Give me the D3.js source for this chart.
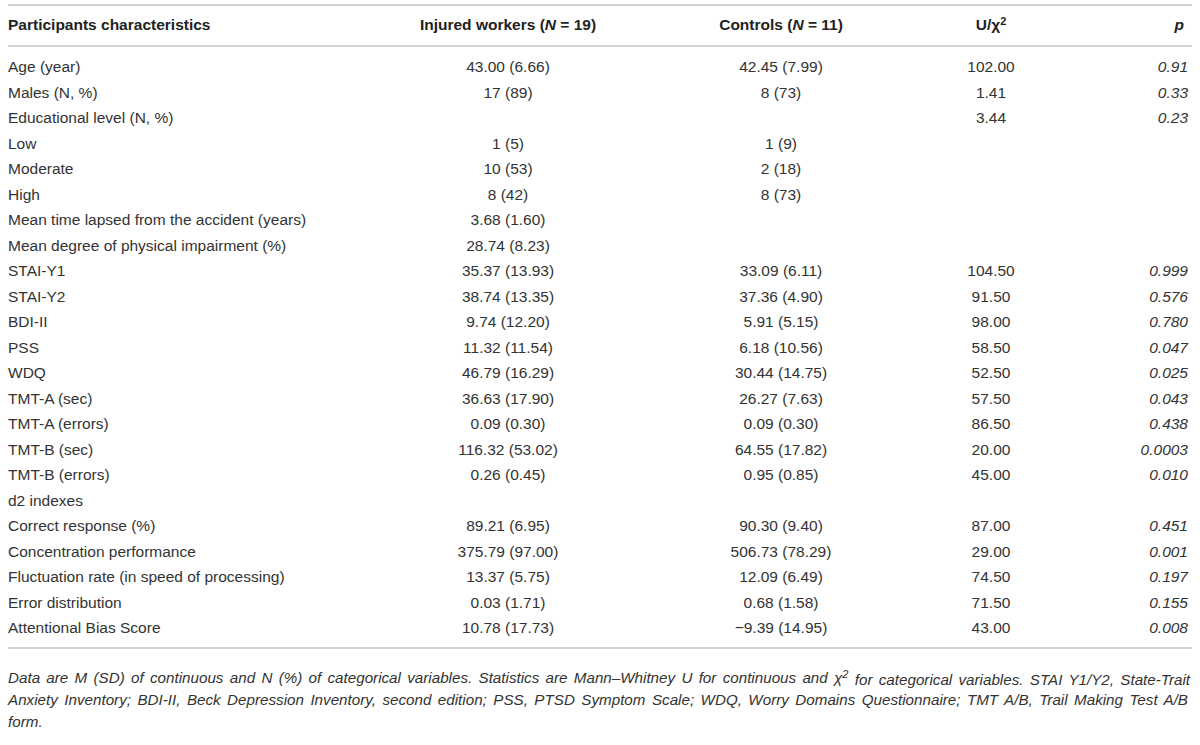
<!DOCTYPE html>
<html>
<head>
<meta charset="utf-8">
<script src="https://cdn.jsdelivr.net/npm/d3@7"></script>
<style>
  body { margin: 0; background: #fff; }
  svg text { font-family: "Liberation Sans", Arial, sans-serif; font-size: 15.5px; fill: #333; }
  svg .head text { font-size: 15.5px; font-weight: bold; fill: #222; }
  svg .note text { font-size: 15.2px; font-style: italic; }
</style>
</head>
<body>
<div id="chart-area"></div>
<script>
// table content
var labels = ["Age (year)", "Males (N, %)", "Educational level (N, %)", "Low", "Moderate", "High",
  "Mean time lapsed from the accident (years)", "Mean degree of physical impairment (%)",
  "STAI-Y1", "STAI-Y2", "BDI-II", "PSS", "WDQ", "TMT-A (sec)", "TMT-A (errors)", "TMT-B (sec)",
  "TMT-B (errors)", "d2 indexes", "Correct response (%)", "Concentration performance",
  "Fluctuation rate (in speed of processing)", "Error distribution", "Attentional Bias Score"];

var injured = ["43.00 (6.66)", "17 (89)", "", "1 (5)", "10 (53)", "8 (42)", "3.68 (1.60)", "28.74 (8.23)",
  "35.37 (13.93)", "38.74 (13.35)", "9.74 (12.20)", "11.32 (11.54)", "46.79 (16.29)", "36.63 (17.90)",
  "0.09 (0.30)", "116.32 (53.02)", "0.26 (0.45)", "", "89.21 (6.95)", "375.79 (97.00)", "13.37 (5.75)",
  "0.03 (1.71)", "10.78 (17.73)"];

var controls = ["42.45 (7.99)", "8 (73)", "", "1 (9)", "2 (18)", "8 (73)", "", "",
  "33.09 (6.11)", "37.36 (4.90)", "5.91 (5.15)", "6.18 (10.56)", "30.44 (14.75)", "26.27 (7.63)",
  "0.09 (0.30)", "64.55 (17.82)", "0.95 (0.85)", "", "90.30 (9.40)", "506.73 (78.29)", "12.09 (6.49)",
  "0.68 (1.58)", "\u22129.39 (14.95)"];

var stats = ["102.00", "1.41", "3.44", "", "", "", "", "", "104.50", "91.50", "98.00", "58.50", "52.50",
  "57.50", "86.50", "20.00", "45.00", "", "87.00", "29.00", "74.50", "71.50", "43.00"];

var pvals = ["0.91", "0.33", "0.23", "", "", "", "", "", "0.999", "0.576", "0.780", "0.047", "0.025",
  "0.043", "0.438", "0.0003", "0.010", "", "0.451", "0.001", "0.197", "0.155", "0.008"];

var width = 1200, height = 745;
var ruleColor = "#d2d2d2";

var svg = d3.select("#chart-area")
    .append("svg")
    .attr("width", width)
    .attr("height", height);

var y = d3.scaleLinear()
    .domain([0, labels.length - 1])
    .range([67, 628]);

var colX = { label: 8, injured: 508, controls: 781, stat: 991, p: 1188 };

// horizontal rules
[5, 46, 648].forEach(function(ly) {
    svg.append("line")
        .attr("x1", 8).attr("x2", 1192)
        .attr("y1", ly).attr("y2", ly)
        .attr("stroke", ruleColor)
        .attr("stroke-width", 2);
});

// header
var header = svg.append("g").attr("class", "head");
header.append("text").attr("x", colX.label).attr("y", 25).attr("dy", "0.35em")
    .text("Participants characteristics");

var h1 = header.append("text").attr("x", colX.injured).attr("y", 25).attr("dy", "0.35em")
    .attr("text-anchor", "middle");
h1.append("tspan").text("Injured workers (");
h1.append("tspan").style("font-style", "italic").text("N");
h1.append("tspan").text(" = 19)");

var h2 = header.append("text").attr("x", colX.controls).attr("y", 25).attr("dy", "0.35em")
    .attr("text-anchor", "middle");
h2.append("tspan").text("Controls (");
h2.append("tspan").style("font-style", "italic").text("N");
h2.append("tspan").text(" = 11)");

var h3 = header.append("text").attr("x", colX.stat).attr("y", 25).attr("dy", "0.35em")
    .attr("text-anchor", "middle");
h3.append("tspan").text("U/\u03c7");
h3.append("tspan").attr("dy", "-0.45em").style("font-size", "11px").text("2");

header.append("text").attr("x", colX.p - 4).attr("y", 25).attr("dy", "0.35em")
    .attr("text-anchor", "end").style("font-style", "italic").text("p");

// body rows
var rows = svg.append("g");

rows.selectAll(".lab").data(labels).enter().append("text")
    .attr("class", "lab")
    .attr("x", colX.label)
    .attr("y", function(d, i) { return y(i); })
    .attr("dy", "0.35em")
    .text(function(d) { return d; });

rows.selectAll(".inj").data(injured).enter().append("text")
    .attr("class", "inj")
    .attr("x", colX.injured)
    .attr("y", function(d, i) { return y(i); })
    .attr("dy", "0.35em")
    .attr("text-anchor", "middle")
    .text(function(d) { return d; });

rows.selectAll(".con").data(controls).enter().append("text")
    .attr("class", "con")
    .attr("x", colX.controls)
    .attr("y", function(d, i) { return y(i); })
    .attr("dy", "0.35em")
    .attr("text-anchor", "middle")
    .text(function(d) { return d; });

rows.selectAll(".st").data(stats).enter().append("text")
    .attr("class", "st")
    .attr("x", colX.stat)
    .attr("y", function(d, i) { return y(i); })
    .attr("dy", "0.35em")
    .attr("text-anchor", "middle")
    .text(function(d) { return d; });

rows.selectAll(".pv").data(pvals).enter().append("text")
    .attr("class", "pv")
    .attr("x", colX.p)
    .attr("y", function(d, i) { return y(i); })
    .attr("dy", "0.35em")
    .attr("text-anchor", "end")
    .style("font-style", "italic")
    .text(function(d) { return d; });

// footnote, first two lines justified by widening word gaps
var note = svg.append("g").attr("class", "note");

function justify(sel, spaces) {
    var w = sel.node().getComputedTextLength();
    var extra = (1180 - w) / spaces;
    if (extra > 0) sel.style("word-spacing", extra + "px");
}

var n1 = note.append("text").attr("x", 8).attr("y", 678).attr("dy", "0.35em");
n1.append("tspan").text("Data are M (SD) of continuous and N (%) of categorical variables. Statistics are Mann\u2013Whitney U for continuous and \u03c7");
n1.append("tspan").attr("dy", "-0.45em").style("font-size", "11px").text("2");
n1.append("tspan").attr("dy", "0.45em").text(" for categorical variables. STAI Y1/Y2, State-Trait");
justify(n1, 24);

var line2 = "Anxiety Inventory; BDI-II, Beck Depression Inventory, second edition; PSS, PTSD Symptom Scale; WDQ, Worry Domains Questionnaire; TMT A/B, Trail Making Test A/B";
var n2 = note.append("text").attr("x", 8).attr("y", 700).attr("dy", "0.35em").text(line2);
justify(n2, line2.split(" ").length - 1);

note.append("text").attr("x", 8).attr("y", 722).attr("dy", "0.35em")
    .text("form.");
</script>
</body>
</html>
